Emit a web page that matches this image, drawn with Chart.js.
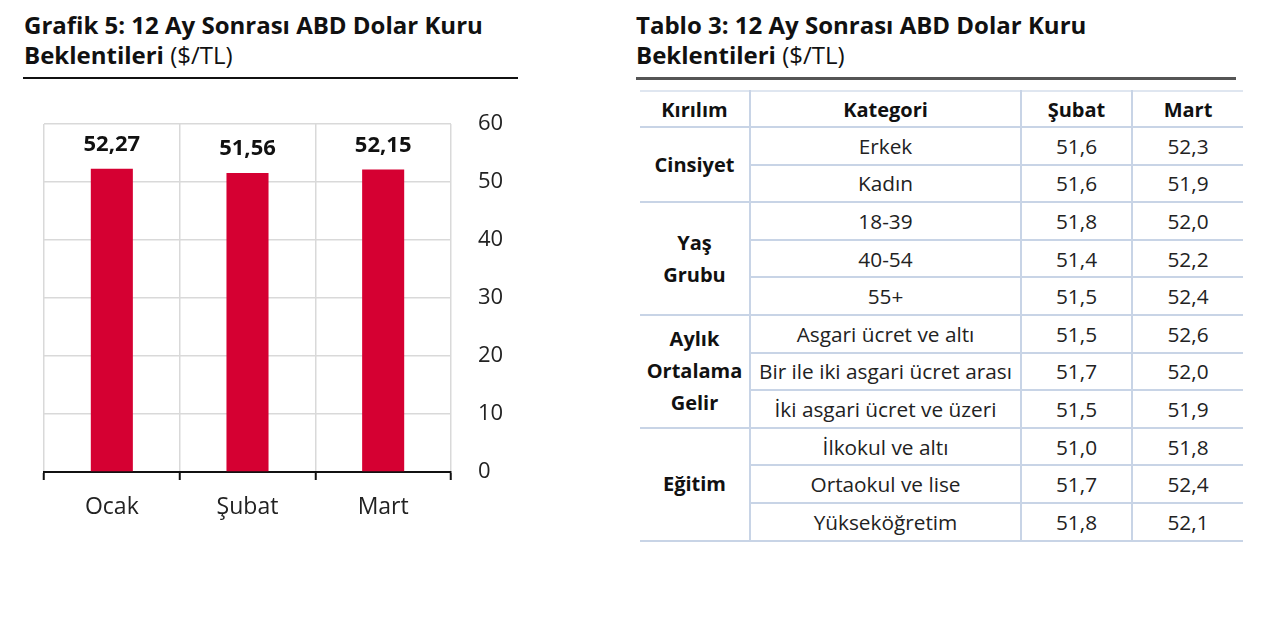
<!DOCTYPE html>
<html lang="tr">
<head>
<meta charset="utf-8">
<script src="https://cdn.jsdelivr.net/npm/chart.js@4/dist/chart.umd.min.js"></script>
<style>
  html, body { margin: 0; padding: 0; background: #fff; }
  body { width: 1280px; height: 626px; position: relative; overflow: hidden; font-family: "Open Sans", sans-serif; color: #1a1a1a; }
  .title { position: absolute; top: 10px; font-size: 24px; line-height: 30px; font-weight: 700; color: #111; white-space: nowrap; }
  .title .unit { font-weight: 400; }
  .rule { position: absolute; top: 77px; height: 2px; background: #111; }
  #chartWrap { position: absolute; left: 0; top: 90px; width: 540px; height: 450px; }
  table { position: absolute; left: 640px; top: 90px; border-collapse: collapse; font-size: 20.8px; color: #222; table-layout: fixed; }
  td, th { border: 2px solid #c8d4e6; text-align: center; padding: 0; white-space: nowrap; }
  tr > :first-child { border-left: none; }
  tr > :last-child { border-right: none; }
  th { font-weight: 700; height: 34px; color: #111; font-size: 20px; }
  td { height: 35.6px; }
  td.grp { font-weight: 700; line-height: 32px; color: #111; font-size: 20px; }
  thead tr th { border-top-color: #dfe6f0; }
</style>
</head>
<body>
<div class="title" style="left:24px">Grafik 5: 12 Ay Sonrası ABD Dolar Kuru<br>Beklentileri <span class="unit">($/TL)</span></div>
<div class="rule" style="left:23px;width:495px"></div>
<div id="chartWrap"><canvas id="c"></canvas></div>

<div class="title" style="left:636px">Tablo 3: 12 Ay Sonrası ABD Dolar Kuru<br>Beklentileri <span class="unit">($/TL)</span></div>
<div class="rule" style="left:636px;width:600px;height:3px;background:#555"></div>
<table id="tbl">
  <colgroup><col style="width:110px"><col style="width:271px"><col style="width:111px"><col style="width:111px"></colgroup>
  <thead><tr id="hdr"></tr></thead>
  <tbody id="body"></tbody>
</table>

<script>
// ---- Chart data ----
const months = ["Ocak", "Şubat", "Mart"];
const expectations = [52.27, 51.56, 52.15];
const yTicks = [0, 10, 20, 30, 40, 50, 60];

// ---- Table data ----
const tableHeaders = ["Kırılım", "Kategori", "Şubat", "Mart"];
const groupNames = [["Cinsiyet"], ["Yaş", "Grubu"], ["Aylık", "Ortalama", "Gelir"], ["Eğitim"]];
const groupSizes = [2, 3, 3, 3];
const categories = ["Erkek", "Kadın", "18-39", "40-54", "55+", "Asgari ücret ve altı", "Bir ile iki asgari ücret arası", "İki asgari ücret ve üzeri", "İlkokul ve altı", "Ortaokul ve lise", "Yükseköğretim"];
const subatValues = [51.6, 51.6, 51.8, 51.4, 51.5, 51.5, 51.7, 51.5, 51.0, 51.7, 51.8];
const martValues = [52.3, 51.9, 52.0, 52.2, 52.4, 52.6, 52.0, 51.9, 51.8, 52.4, 52.1];

const fmt = (v, d) => v.toFixed(d).replace('.', ',');

// build table
const hdr = document.getElementById('hdr');
tableHeaders.forEach(h => { const th = document.createElement('th'); th.textContent = h; hdr.appendChild(th); });
const body = document.getElementById('body');
let idx = 0;
groupNames.forEach((g, gi) => {
  for (let k = 0; k < groupSizes[gi]; k++) {
    const tr = document.createElement('tr');
    if (k === 0) {
      const td = document.createElement('td');
      td.className = 'grp';
      td.rowSpan = groupSizes[gi];
      g.forEach((part, pi) => { if (pi) td.appendChild(document.createElement('br')); td.appendChild(document.createTextNode(part)); });
      tr.appendChild(td);
    }
    [categories[idx], fmt(subatValues[idx], 1), fmt(martValues[idx], 1)].forEach(t => {
      const td = document.createElement('td'); td.textContent = t; tr.appendChild(td);
    });
    body.appendChild(tr);
    idx++;
  }
});

// chart
const valueLabels = {
  id: 'valueLabels',
  afterDatasetsDraw(chart) {
    const ctx = chart.ctx;
    const meta = chart.getDatasetMeta(0);
    ctx.save();
    ctx.font = '700 22px "Open Sans"';
    ctx.fillStyle = '#111';
    ctx.textAlign = 'center';
    ctx.textBaseline = 'middle';
    meta.data.forEach((bar, i) => {
      ctx.fillText(fmt(chart.data.datasets[0].data[i], 2), bar.x, bar.y - 24);
    });
    ctx.restore();
  }
};

new Chart(document.getElementById('c'), {
  type: 'bar',
  data: {
    labels: months,
    datasets: [{ data: expectations, backgroundColor: '#d50032', barPercentage: 0.31, categoryPercentage: 1 }]
  },
  options: {
    responsive: true,
    maintainAspectRatio: false,
    animation: false,
    layout: { padding: { left: 44, top: 34, right: 0, bottom: 0 } },
    plugins: { legend: { display: false }, tooltip: { enabled: false } },
    scales: {
      x: {
        grid: { color: '#d9d9d9', lineWidth: 1.5, drawTicks: true, tickLength: 8, tickColor: '#111', tickWidth: 2, offset: true },
        border: { display: true, color: '#111', width: 2 },
        ticks: { color: '#222', font: { family: 'Open Sans', size: 23 }, padding: 14 },
        afterFit(s) { s.height = 68; }
      },
      y: {
        position: 'right',
        min: yTicks[0], max: yTicks[yTicks.length - 1],
        afterBuildTicks(s) { s.ticks = yTicks.map(v => ({ value: v })); },
        grid: { color: c => (c.tick && c.tick.value === 0) ? 'rgba(0,0,0,0)' : '#d9d9d9', lineWidth: 1.5, drawTicks: true, tickLength: 27, tickColor: 'rgba(0,0,0,0)' },
        border: { display: false },
        ticks: { color: '#222', font: { family: 'Open Sans', size: 22 }, padding: 0 },
        afterFit(s) { s.width = 89; }
      }
    }
  },
  plugins: [valueLabels]
});
</script>
</body>
</html>
